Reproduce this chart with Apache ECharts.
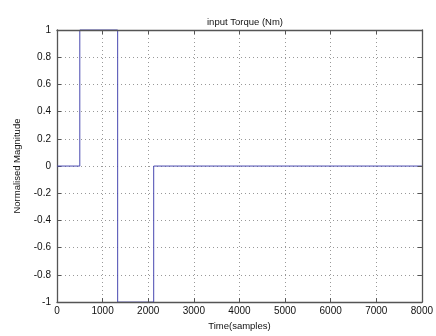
<!DOCTYPE html>
<html><head><meta charset="utf-8">
<script src="https://cdn.jsdelivr.net/npm/echarts@6/dist/echarts.min.js"></script>
<style>html,body{margin:0;padding:0;background:#fff}#c{width:436px;height:336px}</style>
</head><body><div id="c"></div>
<script>
var timeSamples = [0, 500, 500, 1330, 1330, 2120, 2120, 8000];
var magnitude   = [0, 0, 1, 1, -1, -1, 0, 0];
var xTicks = [0, 1000, 2000, 3000, 4000, 5000, 6000, 7000, 8000];
var yTicks = [-1, -0.8, -0.6, -0.4, -0.2, 0, 0.2, 0.4, 0.6, 0.8, 1];

var font = 'Liberation Sans, Arial, sans-serif';
var data = timeSamples.map(function (t, i) { return [t, magnitude[i]]; });
var chart = echarts.init(document.getElementById('c'), null, {renderer: 'canvas'});
var gridLine = {show: true, lineStyle: {color: '#999', type: [1, 3], width: 1}};
var axisLine = {show: true, onZero: false, lineStyle: {color: '#555', width: 1.3}};
var tick = {show: true, inside: true, length: 4, lineStyle: {color: '#555'}};
chart.setOption({
  animation: false,
  backgroundColor: '#fff',
  title: {text: 'input Torque (Nm)', left: 240, top: 12, textAlign: 'center',
    textStyle: {fontFamily: font, fontSize: 9.5, fontWeight: 'normal', color: '#111'}},
  grid: {left: 57, right: 13, top: 30, bottom: 28},
  xAxis: [{
    type: 'value', min: 0, max: 8000, interval: 1000, z: 5,
    name: 'Time(samples)', nameLocation: 'middle', nameGap: 14,
    nameTextStyle: {fontFamily: font, fontSize: 9.5, color: '#111'},
    axisLine: axisLine, axisTick: tick,
    axisLabel: {fontFamily: font, fontSize: 10, color: '#111', margin: 4,
      formatter: function (v) { return String(v); }},
    splitLine: {show: false}
  }, {
    type: 'value', position: 'top', min: 0, max: 8000, interval: 1000, z: 5,
    axisLine: axisLine, axisTick: tick,
    axisLabel: {show: false}, splitLine: {show: false}
  }, {
    type: 'value', position: 'bottom', min: 0, max: 8000, interval: 1000, z: 0,
    axisLine: {show: false}, axisTick: {show: false},
    axisLabel: {show: false}, splitLine: gridLine
  }],
  yAxis: [{
    type: 'value', min: -1, max: 1, interval: 0.2, z: 0,
    name: 'Normalised Magnitude', nameLocation: 'middle', nameGap: 34,
    nameTextStyle: {fontFamily: font, fontSize: 9.5, color: '#111'},
    axisLine: axisLine, axisTick: tick,
    axisLabel: {fontFamily: font, fontSize: 10, color: '#111', margin: 6,
      formatter: function (v) { return String(Math.round(v * 10) / 10); }},
    splitLine: gridLine
  }, {
    type: 'value', position: 'right', min: -1, max: 1, interval: 0.2, z: 5,
    axisLine: axisLine, axisTick: tick,
    axisLabel: {show: false}, splitLine: {show: false}
  }],
  series: [{
    type: 'line', data: data, xAxisIndex: 0, yAxisIndex: 0, z: 2,
    showSymbol: false, symbol: 'none',
    lineStyle: {color: '#4848b0', width: 1},
    clip: false
  }]
});
</script></body></html>
